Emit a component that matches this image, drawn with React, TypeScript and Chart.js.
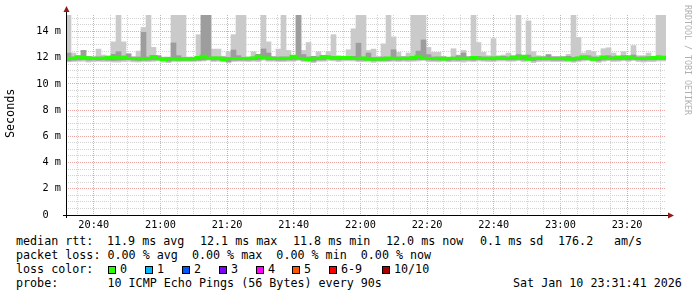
import { useEffect, useRef } from 'react';
import { Chart, registerables } from 'chart.js';

Chart.register(...registerables);

// time axis: minutes after 20:00; graph covers 20:31:41 .. 23:31:41, one sample every 90 s
const START_MIN = 31 + 41 / 60;
const STEP_MIN = 1.5;
const SPAN_MIN = 180;

const xLabelMinutes = [40, 60, 80, 100, 120, 140, 160, 180, 200];
const xLabels = ['20:40', '21:00', '21:20', '21:40', '22:00', '22:20', '22:40', '23:00', '23:20'];
const xGridMinutes = [35, 40, 45, 50, 55, 60, 65, 70, 75, 80, 85, 90, 95, 100, 105, 110, 115, 120, 125, 130, 135, 140, 145, 150, 155, 160, 165, 170, 175, 180, 185, 190, 195, 200, 205, 210];
const yGridValues = [0, 0.5, 1, 1.5, 2, 2.5, 3, 3.5, 4, 4.5, 5, 5.5, 6, 6.5, 7, 7.5, 8, 8.5, 9, 9.5, 10, 10.5, 11, 11.5, 12, 12.5, 13, 13.5, 14, 14.5, 15];
const yLabelValues = [0, 2, 4, 6, 8, 10, 12, 14];
const yLabels = ['0  ', '2 m', '4 m', '6 m', '8 m', '10 m', '12 m', '14 m'];
const Y_MAX = 15.25;

// median rtt (ms) per 90 s sample
const medianRtt = [
  11.85, 11.95, 11.95, 12.07, 12.0, 11.97, 11.95, 11.95, 11.95, 12.0,
  12.0, 11.97, 12.05, 11.93, 11.93, 11.92, 11.92, 11.93, 12.08, 11.92,
  11.85, 11.93, 11.9, 11.9, 11.9, 11.9, 11.92, 12.0, 12.1, 11.95,
  11.97, 11.97, 11.83, 11.93, 11.93, 11.93, 11.93, 11.95, 11.97, 12.1,
  11.97, 11.97, 11.93, 11.93, 11.95, 11.95, 12.1, 11.95, 11.93, 11.85,
  11.95, 11.95, 12.08, 12.0, 11.95, 12.0, 12.0, 12.0, 11.95, 11.93,
  11.97, 11.88, 11.9, 11.9, 11.9, 11.97, 11.93, 11.95, 11.95, 11.95,
  12.0, 12.1, 11.95, 11.93, 11.93, 11.95, 11.9, 11.95, 11.93, 11.95,
  11.95, 11.93, 12.0, 11.95, 11.95, 11.93, 11.97, 11.97, 11.95, 11.95,
  12.05, 11.95, 12.1, 11.88, 11.95, 11.95, 11.95, 11.93, 11.93, 11.93,
  11.95, 11.88, 11.92, 11.97, 12.07, 11.95, 11.88, 11.95, 12.05, 11.95,
  11.95, 12.05, 11.95, 12.07, 11.95, 11.93, 11.95, 11.95, 12.0, 12.0,
];

// highest ping of the 10 (outer smoke top)
const pingMax = [
  15.25, 12.35, 12.15, 12.55, 12.1, 12.05, 12.65, 12.2, 12.15, 13.2,
  15.25, 13.2, 12.3, 12.1, 12.5, 14.3, 15.25, 12.78, 12.1, 12.05,
  12.05, 15.25, 15.25, 15.25, 12.05, 12.05, 13.75, 15.25, 15.25, 12.65,
  12.65, 12.1, 12.45, 13.75, 15.25, 15.25, 12.05, 12.45, 12.25, 15.25,
  13.2, 12.1, 12.65, 15.25, 12.55, 12.1, 15.25, 12.55, 13.15, 12.1,
  12.45, 12.1, 12.45, 13.75, 12.15, 12.05, 12.6, 14.2, 15.25, 15.25,
  12.55, 12.65, 12.1, 13.05, 15.25, 13.58, 12.4, 12.1, 12.35, 15.25,
  15.25, 15.25, 12.78, 12.4, 12.4, 12.1, 12.0, 12.68, 12.2, 12.55,
  12.1, 15.25, 13.15, 12.4, 12.15, 13.45, 12.15, 12.2, 12.35, 12.15,
  15.25, 12.15, 14.8, 12.45, 12.15, 12.1, 12.2, 12.1, 12.1, 12.1,
  12.25, 15.25, 13.55, 12.35, 12.55, 12.45, 12.15, 12.68, 12.75, 12.35,
  12.1, 12.45, 12.1, 12.92, 12.15, 12.15, 12.35, 12.1, 15.25, 15.25,
];

// second highest ping
const pingHigh2 = [
  12.35, 12.05, 12.05, 12.55, 12.08, 12.05, 12.05, 12.05, 12.05, 12.25,
  12.45, 12.05, 12.28, 12.02, 12.05, 13.93, 12.05, 12.05, 12.15, 12.0,
  11.95, 13.12, 12.15, 12.0, 12.0, 12.0, 12.05, 15.25, 15.25, 12.05,
  12.05, 12.05, 11.95, 12.58, 12.15, 12.02, 12.0, 12.05, 12.25, 12.66,
  12.35, 12.05, 12.05, 12.05, 12.05, 12.05, 15.25, 12.23, 12.05, 12.1,
  12.05, 12.05, 12.15, 12.1, 12.05, 12.08, 12.1, 12.1, 13.1, 12.05,
  12.35, 12.0, 12.0, 12.05, 12.0, 12.6, 12.05, 12.05, 12.05, 12.05,
  12.5, 13.35, 12.23, 12.05, 12.05, 12.05, 12.0, 12.05, 12.15, 12.35,
  12.05, 12.05, 12.1, 12.05, 12.05, 12.05, 12.08, 12.1, 12.05, 12.05,
  12.23, 12.05, 12.2, 12.0, 12.05, 12.05, 12.23, 12.05, 12.05, 12.05,
  12.1, 12.0, 12.05, 12.08, 12.15, 12.05, 12.0, 12.05, 12.15, 12.08,
  12.05, 12.15, 12.05, 12.2, 12.05, 12.05, 12.08, 12.05, 12.15, 12.12,
];

// second lowest ping
const pingLow2 = [
  11.75, 11.8, 11.82, 11.85, 11.8, 11.82, 11.8, 11.82, 11.8, 11.78,
  11.8, 11.82, 11.85, 11.8, 11.78, 11.8, 11.8, 11.82, 11.9, 11.78,
  11.72, 11.8, 11.78, 11.78, 11.78, 11.78, 11.8, 11.82, 11.9, 11.8,
  11.82, 11.82, 11.7, 11.8, 11.8, 11.8, 11.8, 11.82, 11.82, 11.92,
  11.82, 11.82, 11.8, 11.8, 11.82, 11.82, 11.9, 11.8, 11.8, 11.72,
  11.82, 11.82, 11.9, 11.85, 11.82, 11.85, 11.85, 11.85, 11.8, 11.8,
  11.82, 11.75, 11.78, 11.78, 11.78, 11.82, 11.8, 11.82, 11.82, 11.82,
  11.85, 11.9, 11.82, 11.8, 11.8, 11.82, 11.78, 11.82, 11.8, 11.82,
  11.82, 11.8, 11.85, 11.82, 11.82, 11.8, 11.85, 11.85, 11.82, 11.82,
  11.88, 11.82, 11.9, 11.75, 11.82, 11.82, 11.82, 11.8, 11.8, 11.8,
  11.82, 11.75, 11.8, 11.85, 11.9, 11.82, 11.75, 11.82, 11.88, 11.82,
  11.82, 11.88, 11.82, 11.9, 11.82, 11.8, 11.82, 11.82, 11.85, 11.85,
];

// lowest ping of the 10 (outer smoke bottom)
const pingMin = [
  11.68, 11.7, 11.72, 11.72, 11.66, 11.7, 11.72, 11.7, 11.7, 11.66,
  11.66, 11.7, 11.72, 11.68, 11.66, 11.7, 11.7, 11.72, 11.75, 11.65,
  11.62, 11.7, 11.68, 11.7, 11.7, 11.7, 11.72, 11.74, 11.8, 11.7,
  11.72, 11.72, 11.6, 11.7, 11.72, 11.72, 11.7, 11.72, 11.7, 11.8,
  11.72, 11.72, 11.7, 11.7, 11.72, 11.72, 11.78, 11.7, 11.68, 11.62,
  11.72, 11.72, 11.78, 11.75, 11.7, 11.75, 11.75, 11.74, 11.7, 11.7,
  11.72, 11.64, 11.68, 11.68, 11.7, 11.72, 11.7, 11.72, 11.7, 11.72,
  11.74, 11.78, 11.7, 11.7, 11.68, 11.72, 11.68, 11.7, 11.7, 11.66,
  11.72, 11.7, 11.75, 11.72, 11.7, 11.7, 11.74, 11.74, 11.72, 11.72,
  11.76, 11.7, 11.78, 11.62, 11.7, 11.72, 11.72, 11.7, 11.7, 11.7,
  11.7, 11.64, 11.7, 11.74, 11.78, 11.72, 11.64, 11.72, 11.76, 11.7,
  11.72, 11.76, 11.72, 11.78, 11.7, 11.66, 11.7, 11.7, 11.74, 11.74,
];

const lossLabels = ['0', '1', '2', '3', '4', '5', '6-9', '10/10'];
const lossColors = ['#26ff00', '#00b8ff', '#0059ff', '#7e00ff', '#ff00ff', '#ff5500', '#ff0000', '#a80000'];
const lossX = [108, 145, 182, 219, 256, 292, 329, 382];

const rttItems = ['median rtt:', '11.9 ms avg', '12.1 ms max', '11.8 ms min', '12.0 ms now', '0.1 ms sd', '176.2', 'am/s'];
const rttX = [16, 107, 200, 293, 386, 480, 558, 614];
const legendRows = [
  'packet loss: 0.00 % avg  0.00 % max  0.00 % min  0.00 % now',
  'loss color:',
  'probe:       10 ICMP Echo Pings (56 Bytes) every 90s',
];
const dateText = 'Sat Jan 10 23:31:41 2026';

const MONO = '"DejaVu Sans Mono", monospace';
const GRID_MINOR = '#d2d2d2';
const GRID_MAJOR = '#eba6a6';

const axesPlugin = {
  id: 'rrdAxes',
  afterDraw(chart: any) {
    const { ctx, chartArea: a } = chart;
    ctx.save();
    ctx.strokeStyle = '#000';
    ctx.lineWidth = 1;
    ctx.beginPath();
    ctx.moveTo(a.left - 3, a.bottom + 0.5);
    ctx.lineTo(a.right + 4, a.bottom + 0.5);
    ctx.stroke();
    ctx.beginPath();
    ctx.moveTo(a.left + 0.5, a.bottom + 3);
    ctx.lineTo(a.left + 0.5, a.top - 4);
    ctx.stroke();
    ctx.fillStyle = '#8f1b1b';
    ctx.beginPath();
    ctx.moveTo(a.left + 0.5, a.top - 9);
    ctx.lineTo(a.left - 2.5, a.top - 3);
    ctx.lineTo(a.left + 3.5, a.top - 3);
    ctx.closePath();
    ctx.fill();
    ctx.beginPath();
    ctx.moveTo(a.right + 8, a.bottom + 0.5);
    ctx.lineTo(a.right + 2, a.bottom - 2.5);
    ctx.lineTo(a.right + 2, a.bottom + 3.5);
    ctx.closePath();
    ctx.fill();
    ctx.restore();
  },
};

export default function App() {
  const canvasRef = useRef<HTMLCanvasElement | null>(null);

  useEffect(() => {
    const canvas = canvasRef.current;
    if (!canvas) return;
    const barX = (i: number) => START_MIN + STEP_MIN * (i + 0.5);
    const outer = pingMax.map((hi, i) => ({ x: barX(i), y: [pingMin[i], hi] }));
    const mid = pingHigh2.map((hi, i) => ({ x: barX(i), y: [pingLow2[i], hi] }));
    const medPts = medianRtt.map((v, i) => ({ x: START_MIN + STEP_MIN * i, y: v }));
    medPts.push({ x: START_MIN + STEP_MIN * medianRtt.length, y: medianRtt[medianRtt.length - 1] });

    const chart = new Chart(canvas, {
      type: 'bar',
      data: {
        datasets: [
          {
            type: 'line',
            data: medPts,
            borderColor: '#26ff00',
            borderWidth: 3,
            pointRadius: 0,
            stepped: 'after',
            fill: false,
            order: 0,
          } as any,
          {
            type: 'bar',
            data: mid as any,
            backgroundColor: '#9d9d9d',
            borderWidth: 0,
            grouped: false,
            barPercentage: 1,
            categoryPercentage: 1,
            order: 1,
          },
          {
            type: 'bar',
            data: outer as any,
            backgroundColor: '#cacaca',
            borderWidth: 0,
            grouped: false,
            barPercentage: 1,
            categoryPercentage: 1,
            order: 2,
          },
        ],
      },
      options: {
        responsive: false,
        animation: false,
        devicePixelRatio: 1,
        layout: { padding: { top: 15, right: 31, left: 0, bottom: 0 } },
        plugins: { legend: { display: false }, tooltip: { enabled: false }, title: { display: false } },
        scales: {
          x: {
            type: 'linear',
            min: START_MIN,
            max: START_MIN + SPAN_MIN,
            offset: false,
            afterBuildTicks: (s: any) => {
              s.ticks = xGridMinutes.map((v) => ({ value: v }));
            },
            afterFit: (s: any) => {
              s.height = 17;
            },
            ticks: {
              autoSkip: false,
              maxRotation: 0,
              minRotation: 0,
              padding: 4,
              color: '#000',
              font: { family: MONO, size: 10.24 },
              callback: (v: any) => {
                const k = xLabelMinutes.indexOf(Number(v));
                return k >= 0 ? xLabels[k] : '';
              },
            },
            grid: {
              offset: false,
              drawTicks: false,
              color: (c: any) => (xLabelMinutes.includes(c.tick?.value) ? GRID_MAJOR : GRID_MINOR),
            },
            border: { display: false, dash: [1, 1] },
          } as any,
          y: {
            type: 'linear',
            min: 0,
            max: Y_MAX,
            afterBuildTicks: (s: any) => {
              s.ticks = yGridValues.map((v) => ({ value: v }));
            },
            afterFit: (s: any) => {
              s.width = 66;
            },
            ticks: {
              autoSkip: false,
              padding: 5,
              color: '#000',
              font: { family: MONO, size: 10.24 },
              callback: (v: any) => {
                const k = yLabelValues.indexOf(Number(v));
                return k >= 0 ? yLabels[k] : '';
              },
            },
            grid: {
              drawTicks: false,
              color: (c: any) => (yLabelValues.includes(c.tick?.value) ? GRID_MAJOR : GRID_MINOR),
            },
            border: { display: false, dash: [1, 1] },
          } as any,
        },
      },
      plugins: [axesPlugin],
    });
    return () => chart.destroy();
  }, []);

  const rowTop = (i: number) => 234 + 14 * i;
  const textStyle: any = {
    position: 'absolute',
    fontFamily: MONO,
    fontSize: '11.7px',
    lineHeight: '14px',
    whiteSpace: 'pre',
    color: '#000',
  };

  return (
    <div style={{ position: 'absolute', left: 0, top: 0, width: 697, height: 297, background: '#fff', overflow: 'hidden' }}>
      <canvas ref={canvasRef} width={697} height={232} style={{ position: 'absolute', left: 0, top: 0, width: 697, height: 232 }} />
      <div
        style={{
          position: 'absolute',
          left: 3,
          top: 88,
          width: 14,
          height: 50,
          writingMode: 'vertical-rl',
          transform: 'rotate(180deg)',
          fontFamily: MONO,
          fontSize: '11.7px',
          lineHeight: '14px',
          textAlign: 'center',
          color: '#000',
          whiteSpace: 'pre',
        }}
      >
        Seconds
      </div>
      <div
        style={{
          position: 'absolute',
          left: 683,
          top: 5,
          width: 10,
          writingMode: 'vertical-rl',
          fontFamily: MONO,
          fontSize: '8.3px',
          lineHeight: '10px',
          color: '#b0b0b0',
          whiteSpace: 'pre',
        }}
      >
        RRDTOOL / TOBI OETIKER
      </div>
      {rttItems.map((t, i) => (
        <div key={'r' + i} style={{ ...textStyle, left: rttX[i], top: rowTop(0) }}>
          {t}
        </div>
      ))}
      {legendRows.map((t, i) => (
        <div key={i} style={{ ...textStyle, left: 16, top: rowTop(i + 1) }}>
          {t}
        </div>
      ))}
      {lossLabels.map((lab, i) => (
        <div key={'l' + i}>
          <div
            style={{
              position: 'absolute',
              left: lossX[i],
              top: 266,
              width: 8,
              height: 8,
              boxSizing: 'border-box',
              border: '1px solid #000',
              background: lossColors[i],
            }}
          />
          <div style={{ ...textStyle, left: lossX[i] + 12, top: rowTop(2) }}>{lab}</div>
        </div>
      ))}
      <div style={{ ...textStyle, left: 513, top: rowTop(3) }}>{dateText}</div>
    </div>
  );
}
